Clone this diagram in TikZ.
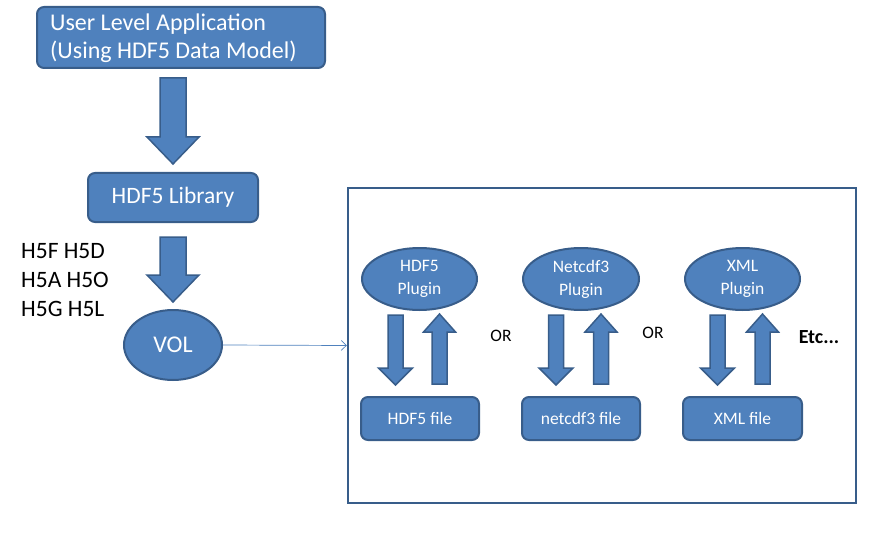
\documentclass[tikz,border=0pt]{standalone}
\usepackage{fontspec}
\setmainfont{Carlito}
\usetikzlibrary{shapes.geometric,arrows.meta}
\definecolor{bfill}{HTML}{4F81BD}
\definecolor{bline}{HTML}{385D8A}
% down block arrow: cx, ytop, ytip, half shaft, half head, head length
\newcommand\BlkDown[6]{\filldraw[blk] ({#1-#4},#2) -- ({#1+#4},#2) -- ({#1+#4},{#3-#6}) -- ({#1+#5},{#3-#6}) -- (#1,#3) -- ({#1-#5},{#3-#6}) -- ({#1-#4},{#3-#6}) -- cycle;}
% up block arrow: cx, ybottom, ytip, half shaft, half head, head length
\newcommand\BlkUp[6]{\filldraw[blk] ({#1-#4},#2) -- ({#1+#4},#2) -- ({#1+#4},{#3+#6}) -- ({#1+#5},{#3+#6}) -- (#1,#3) -- ({#1-#5},{#3+#6}) -- ({#1-#4},{#3+#6}) -- cycle;}
\tikzset{
  blk/.style={fill=bfill,draw=bline,line width=1.5pt,line join=miter},
  boxnode/.style={rectangle,rounded corners=7pt,fill=bfill,draw=bline,line width=2pt,text=white,inner sep=0pt},
  ellnode/.style={ellipse,fill=bfill,draw=bline,line width=2pt,text=white,inner sep=0pt,align=center},
  big/.style={font=\fontsize{24}{28}\selectfont},
  small/.style={font=\fontsize{17.5}{23}\selectfont},
}
\begin{document}
\begin{tikzpicture}[x=1pt,y=-1pt]
\useasboundingbox (0,0) rectangle (885,540);
% top box
\node[boxnode,minimum width=288pt,minimum height=61pt] (app) at (181,37.5) {};
\node[big,text=white,align=left,anchor=west,inner sep=0pt] (apptext) at (50,38) {User Level Application\\(Using HDF5 Data Model)};
\BlkDown{173}{78}{164}{13}{26}{27}
\node[boxnode,font=\fontsize{23.5}{28}\selectfont,minimum width=170pt,minimum height=49pt] (lib) at (173,197.5) {HDF5 Library};
\BlkDown{173}{237}{302}{13}{26}{27}
\node[font=\fontsize{23.5}{29}\selectfont,align=left,anchor=west,inner sep=0pt] (h5) at (21,280) {H5F H5D\\H5A H5O\\H5G H5L};
\node[ellnode,font=\fontsize{24}{28}\selectfont,minimum width=98pt,minimum height=70pt] (vol) at (173,345) {VOL};
% outer frame
\node[draw=bline,line width=2.5pt,minimum width=508pt,minimum height=315pt,inner sep=0pt] (frame) at (602,345.5) {};
\draw[bfill,line width=0.7pt,-{Straight Barb[length=5pt,width=10pt]}] (vol.east) -- (frame.west);
% plugins
\node[ellnode,small,minimum width=115pt,minimum height=62pt] (p1) at (419.5,279) {HDF5\\Plugin};
\node[ellnode,small,minimum width=116pt,minimum height=62pt] (p2) at (581,279) {Netcdf3\\Plugin};
\node[ellnode,small,minimum width=115pt,minimum height=62pt] (p3) at (742.5,279) {XML\\Plugin};
% files
\node[boxnode,small,minimum width=118pt,minimum height=43pt] (f1) at (420,418.5) {HDF5 file};
\node[boxnode,small,minimum width=118pt,minimum height=43pt] (f2) at (581,418.5) {netcdf3 file};
\node[boxnode,small,minimum width=119pt,minimum height=43pt] (f3) at (742.5,418.5) {XML file};
% small arrows
\BlkDown{395.5}{315}{385}{7.5}{17}{17}
\BlkUp{439.5}{384}{314}{7.5}{16}{18}
\BlkDown{556}{315}{385}{7.5}{17}{17}
\BlkUp{601}{384}{314}{7.5}{16}{18}
\BlkDown{717.5}{315}{385}{7.5}{17}{17}
\BlkUp{762.5}{384}{314}{7.5}{16}{18}
% labels
\node[small] (or1) at (501,336) {OR};
\node[small] (or2) at (653,333) {OR};
\node[font=\bfseries\fontsize{20}{24}\selectfont] (etc) at (819,337) {Etc...};
\end{tikzpicture}
\end{document}
